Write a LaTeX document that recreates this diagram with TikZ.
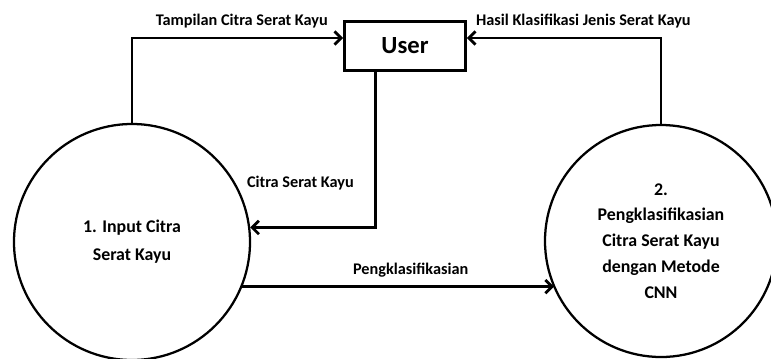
\documentclass[tikz,border=0pt]{standalone}
\usepackage{fontspec}
\setmainfont{Carlito}
\usetikzlibrary{positioning,arrows.meta}

\begin{document}
\begin{tikzpicture}[
    x=0.75pt, y=-0.75pt,
    font=\bfseries,
    proc/.style={draw, circle, line width=1.7pt, inner sep=0pt,
                 align=center, font=\bfseries\fontsize{13.4}{21}\selectfont},
    ent/.style={draw, line width=1.8pt, minimum width=91pt,
                minimum height=37pt, font=\bfseries\fontsize{18.5}{20}\selectfont},
    flow/.style={-{Straight Barb[length=5pt,width=10pt]}, line width=2.1pt},
    lbl/.style={font=\bfseries\fontsize{12.2}{14}\selectfont}
  ]
    \useasboundingbox (0,0) rectangle (771,358);
    \node[ent] (U) at (405,46) {User};
    \node[proc, minimum size=177pt] (P1) at (132,242) {1. Input Citra\\Serat Kayu};
    \node[proc, minimum size=174pt, font=\bfseries\fontsize{13.4}{19.4}\selectfont] (P2) at (661,241)
      {2.\\Pengklasifikasian\\Citra Serat Kayu\\dengan Metode\\CNN};
    \draw[flow] (P1.north) |- node[lbl, pos=0.76, above=3pt] {Tampilan Citra Serat Kayu} ([yshift=6pt]U.west);
    \draw[flow] (P2.north) |- node[lbl, pos=0.7, above=3pt] {Hasil Klasifikasi Jenis Serat Kayu} ([yshift=6pt]U.east);
    \draw[flow] ([xshift=-22pt]U.south) |- node[lbl, pos=0.8, above=24pt] {Citra Serat Kayu} (P1.7);
    \draw[flow] (P1.-22) -- node[lbl, pos=0.54, above=3pt] {Pengklasifikasian} (P1.-22 -| P2.204);
\end{tikzpicture}
\end{document}
